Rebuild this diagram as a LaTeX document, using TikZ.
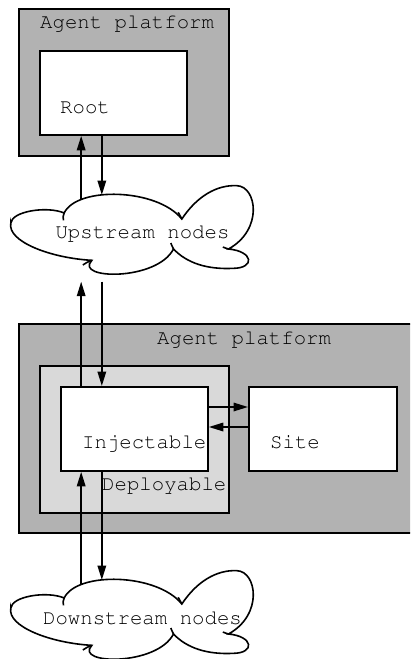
\documentclass[tikz,border=0pt]{standalone}
\usepackage[T1]{fontenc}
\usetikzlibrary{arrows.meta}

\newcommand{\courierfont}{\fontfamily{pcr}\fontseries{m}\fontshape{n}\fontsize{20.7}{24}\selectfont}

\tikzset{
  platform/.style={draw=black, line width=1.8pt, fill=black!30},
  deploybox/.style={draw=black, line width=1.8pt, fill=black!15},
  compbox/.style={draw=black, line width=1.8pt, fill=white, inner sep=0pt},
  lbl/.style={font=\courierfont, text=black, inner sep=0pt, anchor=base west},
  cloudtext/.style={font=\courierfont, text=black, inner sep=0pt},
  arr/.style={line width=1.7pt, -{Triangle[length=14.5pt,width=8.5pt]}},
  cloudpic/.pic={
    \begin{scope}[scale=1/3, shift={(-427,-190)}, line width=1.6pt]
      % outline of the puffy cloud
      \draw (32,160) .. controls (35,125) and (140,108) .. (192,130)
            .. controls (230,50) and (470,55) .. (545,148)
            .. controls (590,80) and (650,45) .. (710,48)
            .. controls (770,50) and (790,180) .. (685,238)
            .. controls (760,245) and (765,295) .. (700,296)
            .. controls (620,300) and (560,280) .. (520,238)
            .. controls (470,335) and (220,330) .. (275,272)
            .. controls (150,265) and (20,215) .. cycle;
      % small curls where the puffs meet
      \draw (192,130) .. controls (188,138) and (188,145) .. (190,152);
      \draw (545,148) .. controls (541,140) and (538,135) .. (534,128);
      \draw (685,238) .. controls (678,236) and (673,234) .. (668,232);
      \draw (520,238) .. controls (516,230) and (514,226) .. (512,220);
      \draw (275,272) .. controls (265,276) and (255,280) .. (248,286);
      % anchor points for the connectors
      \coordinate (-ta) at (243,90);
      \coordinate (-tb) at (305,76);
      \coordinate (-ba) at (243,336);
      \coordinate (-bb) at (305,336);
    \end{scope}
  }
}

\begin{document}
\begin{tikzpicture}[x=1pt,y=-1pt]
  \useasboundingbox (0,0) rectangle (410,659);
  \clip (0,0) rectangle (410,659);

  % upper agent platform with the root component
  \node[platform, minimum width=210pt, minimum height=147pt, anchor=north west] (plat1) at (18,8) {};
  \node[lbl] (plat1lbl) at (40,28) {Agent platform};
  \node[compbox, minimum width=147pt, minimum height=84pt, anchor=north west] (root) at (39,50) {};
  \node[lbl] (rootlbl) at (60,113) {Root};

  % upstream cloud
  \node[cloudtext] (upstream) at (142.5,233) {Upstream nodes};
  \pic (upc) at (142.5,233) {cloudpic};

  % lower agent platform
  \node[platform, minimum width=400pt, minimum height=209pt, anchor=north west] (plat2) at (18,323) {};
  \node[lbl] (plat2lbl) at (157,344) {Agent platform};
  \node[deploybox, minimum width=189pt, minimum height=147pt, anchor=north west] (deploy) at (39,365) {};
  \node[compbox, minimum width=147pt, minimum height=84pt, anchor=north west] (inj) at (60,386) {};
  \node[lbl] (injlbl) at (82,448) {Injectable};
  \node[lbl] (deploylbl) at (102,490) {Deployable};
  \node[compbox, minimum width=148pt, minimum height=84pt, anchor=north west] (site) at (248,386) {};
  \node[lbl] (sitelbl) at (270,448) {Site};

  % downstream cloud
  \node[cloudtext] (downstream) at (142.5,618) {Downstream nodes};
  \pic (dnc) at (142.5,618) {cloudpic};

  % connectors
  \draw[arr] (upc-ta) -- (root.south -| upc-ta);
  \draw[arr] (root.south -| upc-tb) -- (upc-tb);
  \draw[arr] (inj.north -| upc-ba) -- (upc-ba);
  \draw[arr] (upc-bb) -- (inj.north -| upc-bb);
  \draw[arr] (dnc-ta) -- (inj.south -| dnc-ta);
  \draw[arr] (inj.south -| dnc-tb) -- (dnc-tb);
  \coordinate (rowa) at (0,407);
  \coordinate (rowb) at (0,427);
  \draw[arr] (inj.east |- rowa) -- (site.west |- rowa);
  \draw[arr] (site.west |- rowb) -- (inj.east |- rowb);
\end{tikzpicture}
\end{document}
